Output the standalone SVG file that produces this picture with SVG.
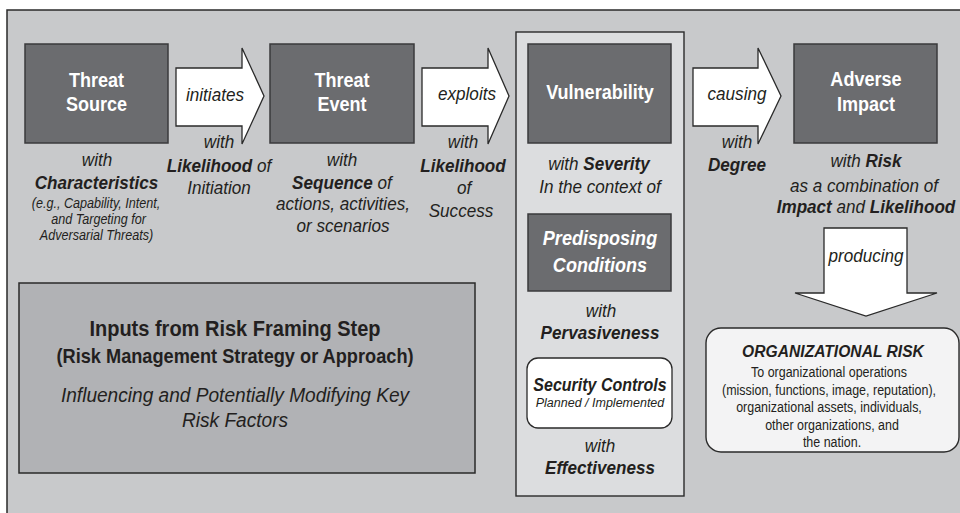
<svg xmlns="http://www.w3.org/2000/svg" width="960" height="513" viewBox="0 0 960 513">
<style>
text{font-family:"Liberation Sans",Arial,sans-serif;fill:#231f20;text-anchor:middle}
.ttl{font-size:21px;font-weight:bold;fill:#fff}
.tti{font-size:21px;font-weight:bold;font-style:italic;fill:#fff}
.lb{font-size:19px;font-style:italic}
.b{font-weight:bold}
.sm{font-size:14px;font-style:italic}
.dark{fill:#6b6c6f;stroke:#3a3a3c;stroke-width:1.5}
.arrow{fill:#fff;stroke:#2a2a2a;stroke-width:1.3;stroke-linejoin:miter}
.body{font-size:14.5px}
</style>
<rect x="0" y="0" width="960" height="513" fill="#fff"/>
<rect id="frame" x="7" y="10" width="1000" height="600" fill="#c8c9cb" stroke="#2a2a2a" stroke-width="1.5"/>

<g id="threat-source">
<rect class="dark" x="25" y="44" width="143" height="99"/>
<text class="ttl" transform="translate(96.5,87) scale(.86,1)">Threat</text>
<text class="ttl" transform="translate(96.5,111) scale(.86,1)">Source</text>
<text class="lb" transform="translate(97,166) scale(.9,1)">with</text>
<text class="lb b" transform="translate(96.5,189) scale(.9,1)">Characteristics</text>
<text class="sm" transform="translate(96,208) scale(.9,1)">(e.g., Capability, Intent,</text>
<text class="sm" transform="translate(98.5,224) scale(.9,1)">and Targeting for</text>
<text class="sm" transform="translate(96.5,240) scale(.9,1)">Adversarial Threats)</text>
</g>

<g id="threat-event">
<rect class="dark" x="270" y="44" width="144" height="99"/>
<text class="ttl" transform="translate(342,87) scale(.86,1)">Threat</text>
<text class="ttl" transform="translate(342,111) scale(.86,1)">Event</text>
<text class="lb" transform="translate(342,166) scale(.9,1)">with</text>
<text class="lb" transform="translate(342,189) scale(.9,1)"><tspan class="b">Sequence</tspan> of</text>
<text class="lb" transform="translate(343,210) scale(.9,1)">actions, activities,</text>
<text class="lb" transform="translate(343,232) scale(.9,1)">or scenarios</text>
</g>

<g id="vulnerability-column">
<rect x="516" y="32" width="168" height="464" fill="#dcdddf" stroke="#2a2a2a" stroke-width="1.4"/>
<g id="vulnerability">
<rect class="dark" x="528" y="44" width="143" height="99"/>
<text class="ttl" transform="translate(600,99) scale(.86,1)">Vulnerability</text>
<text class="lb" transform="translate(599,170) scale(.9,1)">with <tspan class="b">Severity</tspan></text>
<text class="lb" transform="translate(600,193) scale(.9,1)">In the context of</text>
</g>
<g id="predisposing-conditions">
<rect class="dark" x="528" y="214" width="143" height="77"/>
<text class="tti" transform="translate(600,245) scale(.86,1)">Predisposing</text>
<text class="tti" transform="translate(600,272) scale(.86,1)">Conditions</text>
<text class="lb" transform="translate(601,317) scale(.9,1)">with</text>
<text class="lb b" transform="translate(600,339) scale(.9,1)">Pervasiveness</text>
</g>
<g id="security-controls">
<rect x="527" y="358" width="145" height="70" rx="11" fill="#fff" stroke="#2a2a2a" stroke-width="1.3"/>
<text class="lb b" style="font-size:18px" transform="translate(600,391) scale(.89,1)">Security Controls</text>
<text style="font-size:12.5px;font-style:italic" transform="translate(600,407)">Planned / Implemented</text>
<text class="lb" transform="translate(600,452) scale(.9,1)">with</text>
<text class="lb b" transform="translate(600,474) scale(.9,1)">Effectiveness</text>
</g>
</g>

<g id="adverse-impact">
<rect class="dark" x="794" y="44" width="143" height="99"/>
<text class="ttl" transform="translate(866,86) scale(.86,1)">Adverse</text>
<text class="ttl" transform="translate(866,111) scale(.86,1)">Impact</text>
<text class="lb" transform="translate(866,167) scale(.9,1)">with <tspan class="b">Risk</tspan></text>
<text class="lb" transform="translate(864,192) scale(.9,1)">as a combination of</text>
<text class="lb" transform="translate(866,213) scale(.9,1)"><tspan class="b">Impact</tspan> and <tspan class="b">Likelihood</tspan></text>
</g>

<g id="risk-framing-inputs">
<rect x="19" y="283" width="456" height="190" fill="#b1b2b5" stroke="#2a2a2a" stroke-width="1.5"/>
<text style="font-size:22px;font-weight:bold" transform="translate(235,336) scale(.91,1)">Inputs from Risk Framing Step</text>
<text style="font-size:20px;font-weight:bold" transform="translate(235,363) scale(.91,1)">(Risk Management Strategy or Approach)</text>
<text style="font-size:21px;font-style:italic" transform="translate(235,402) scale(.91,1)">Influencing and Potentially Modifying Key</text>
<text style="font-size:21px;font-style:italic" transform="translate(235,427) scale(.91,1)">Risk Factors</text>
</g>

<g id="organizational-risk">
<rect x="706" y="328" width="253" height="124" rx="15" fill="#f3f3f4" stroke="#2a2a2a" stroke-width="1.4"/>
<text style="font-size:17px;font-weight:bold;font-style:italic" transform="translate(833,357) scale(.92,1)">ORGANIZATIONAL RISK</text>
<text class="body" transform="translate(829,377) scale(.86,1)">To organizational operations</text>
<text class="body" transform="translate(829,395) scale(.86,1)">(mission, functions, image, reputation),</text>
<text class="body" transform="translate(829,412) scale(.86,1)">organizational assets, individuals,</text>
<text class="body" transform="translate(832,430) scale(.86,1)">other organizations, and</text>
<text class="body" transform="translate(832,447) scale(.86,1)">the nation.</text>
</g>

<g id="connectors">
<g id="arrow-initiates">
<path class="arrow" d="M176,68 H242 V48 L264,96 L242,144 V126 H176 Z"/>
<text class="lb" transform="translate(215,101) scale(.9,1)">initiates</text>
<text class="lb" transform="translate(219,148) scale(.9,1)">with</text>
<text class="lb" transform="translate(219,172) scale(.9,1)"><tspan class="b">Likelihood</tspan> of</text>
<text class="lb" transform="translate(219,194) scale(.9,1)">Initiation</text>
</g>
<g id="arrow-exploits">
<path class="arrow" d="M422,68 H488 V48 L509,96 L488,144 V126 H422 Z"/>
<text class="lb" transform="translate(467,100) scale(.9,1)">exploits</text>
<text class="lb" transform="translate(463,148) scale(.9,1)">with</text>
<text class="lb b" transform="translate(463,172) scale(.9,1)">Likelihood</text>
<text class="lb" transform="translate(464,194) scale(.9,1)">of</text>
<text class="lb" transform="translate(461,217) scale(.9,1)">Success</text>
</g>
<g id="arrow-causing">
<path class="arrow" d="M693,68 H758 V48 L781,96 L758,144 V126 H693 Z"/>
<text class="lb" transform="translate(737,100) scale(.9,1)">causing</text>
<text class="lb" transform="translate(737,148) scale(.9,1)">with</text>
<text class="lb b" transform="translate(737,171) scale(.9,1)">Degree</text>
</g>
<g id="arrow-producing">
<path class="arrow" d="M824,228 H907 V293 H937 L866,316 L795,293 H824 Z"/>
<text class="lb" transform="translate(866,262) scale(.9,1)">producing</text>
</g>
</g>
</svg>
